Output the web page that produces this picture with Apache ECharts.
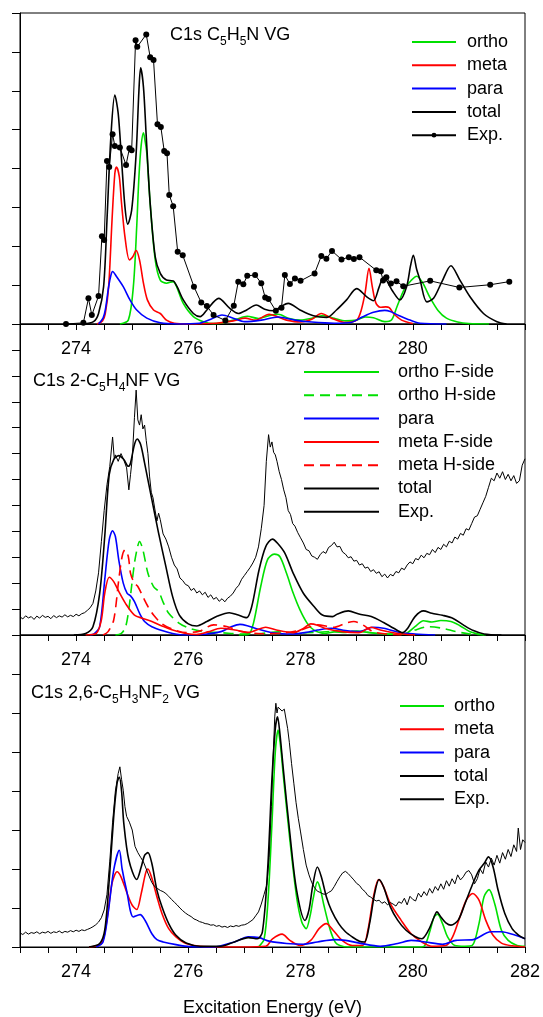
<!DOCTYPE html>
<html><head><meta charset="utf-8">
<script src="https://cdn.jsdelivr.net/npm/echarts@6/dist/echarts.min.js"></script>
<style>html,body{margin:0;padding:0;background:#fff}#c{width:543px;height:1017px}</style>
</head><body><div id="c"></div><script>
// ---------- Panel 1 : C1s C5H5N VG ----------
const p1Ortho = [[274.78,0],[274.93,0.1],[275.02,0.96],[275.08,2.5],[275.12,3.8],[275.16,4.6],[275.20,4.92],[275.23,4.7],[275.26,4.39],[275.32,3.1],[275.41,1.65],[275.50,1.13],[275.61,1.05],[275.73,1.09],[275.79,0.96],[275.91,0.53],[276.09,0.19],[276.27,0.06],[276.45,0.01],[276.65,0.04],[276.85,0.12],[277.05,0.2],[277.25,0.14],[277.45,0.22],[277.6,0.25],[277.8,0.14],[278.0,0.1],[278.2,0.15],[278.4,0.22],[278.6,0.15],[278.8,0.08],[279.0,0.1],[279.15,0.18],[279.3,0.16],[279.5,0.06],[279.62,0.1],[279.72,0.45],[279.85,0.9],[279.97,1.12],[280.07,1.23],[280.18,1.05],[280.3,0.7],[280.45,0.35],[280.6,0.15],[280.8,0.05],[281.0,0.01],[281.36,0]];
const p1Meta = [[274.37,0],[274.47,0.08],[274.52,0.27],[274.58,0.96],[274.64,2.67],[274.69,3.87],[274.72,4.04],[274.77,3.79],[274.81,3.1],[274.87,2.25],[274.95,1.65],[275.01,1.73],[275.07,1.89],[275.13,1.65],[275.20,1.05],[275.27,0.62],[275.38,0.36],[275.50,0.27],[275.61,0.1],[275.75,0.02],[276.0,0],[276.5,0.02],[276.8,0.08],[277.01,0.15],[277.2,0.1],[277.44,0.25],[277.6,0.18],[277.75,0.1],[278.0,0.05],[278.2,0.12],[278.37,0.27],[278.55,0.15],[278.8,0.04],[279.0,0.1],[279.08,0.35],[279.15,0.8],[279.22,1.43],[279.28,0.95],[279.34,0.55],[279.42,0.43],[279.52,0.44],[279.58,0.42],[279.67,0.25],[279.80,0.1],[280.0,0.01]];
const p1Para = [[274.40,0],[274.48,0.15],[274.52,0.36],[274.58,0.96],[274.62,1.25],[274.65,1.35],[274.72,1.22],[274.84,0.96],[274.96,0.62],[275.08,0.36],[275.26,0.15],[275.50,0.03],[275.8,0],[276.2,0.02],[276.4,0.12],[276.6,0.23],[276.8,0.15],[277.0,0.06],[277.3,0.1],[277.6,0.18],[277.9,0.1],[278.2,0.05],[278.6,0.02],[278.9,0.04],[279.1,0.18],[279.3,0.3],[279.5,0.35],[279.6,0.32],[279.75,0.22],[279.95,0.1],[280.13,0.02],[280.6,0]];
const p1Total = [[274.13,0],[274.31,0.06],[274.40,0.27],[274.49,0.96],[274.55,2.67],[274.62,4.82],[274.69,5.89],[274.75,5.42],[274.81,4.22],[274.87,3.02],[274.92,2.57],[274.99,2.93],[275.07,4.39],[275.12,6.02],[275.15,6.59],[275.20,6.1],[275.25,4.82],[275.32,3.1],[275.41,1.73],[275.50,1.3],[275.61,1.13],[275.73,1.11],[275.80,0.96],[275.91,0.62],[276.09,0.27],[276.21,0.19],[276.33,0.36],[276.54,0.66],[276.74,0.4],[276.89,0.27],[277.04,0.36],[277.21,0.49],[277.36,0.38],[277.52,0.34],[277.65,0.45],[277.78,0.53],[277.99,0.36],[278.23,0.21],[278.47,0.17],[278.64,0.36],[278.82,0.62],[279.0,0.91],[279.18,0.7],[279.30,0.6],[279.40,0.95],[279.48,1.21],[279.63,0.87],[279.77,0.62],[279.89,0.96],[279.96,1.5],[280.01,1.77],[280.07,1.4],[280.13,1.13],[280.25,0.57],[280.37,0.66],[280.52,1.09],[280.68,1.5],[280.84,1.13],[281.02,0.7],[281.26,0.27],[281.50,0.06],[281.67,0]];
const p1Exp = [[273.82,0],[274.13,0.03],[274.22,0.66],[274.28,0.23],[274.40,0.72],[274.46,2.26],[274.50,2.16],[274.55,4.19],[274.59,4.04],[274.65,4.88],[274.69,4.58],[274.78,4.54],[274.89,4.09],[274.95,4.52],[274.99,4.47],[275.06,7.3],[275.09,7.13],[275.25,7.45],[275.32,6.86],[275.38,6.79],[275.45,5.14],[275.51,5.07],[275.57,4.45],[275.62,4.39],[275.66,3.32],[275.73,3.03],[275.81,1.86],[275.90,1.77],[276.10,0.96],[276.23,0.55],[276.33,0.46],[276.45,0.23],[276.66,0.09],[276.81,0.47],[276.89,1.09],[276.98,1.02],[277.05,1.24],[277.19,1.26],[277.30,1.05],[277.37,0.68],[277.43,0.64],[277.56,0.34],[277.66,0.42],[277.72,1.26],[277.81,1.03],[277.90,1.17],[278.0,1.11],[278.25,1.3],[278.37,1.75],[278.46,1.68],[278.56,1.88],[278.73,1.66],[278.86,1.72],[278.95,1.67],[279.05,1.72],[279.35,1.38],[279.43,1.36],[279.47,1.12],[279.53,1.2],[279.61,1.04],[279.71,1.1],[279.83,0.97],[280.31,1.11],[280.83,0.94],[281.38,1.01],[281.72,1.09]];

// ---------- Panel 2 : C1s 2-C5H4NF VG ----------
const p2OrthoF = [[276.9,0],[277.07,0.02],[277.16,0.45],[277.29,1.87],[277.41,2.9],[277.53,3.12],[277.63,3.03],[277.75,2.38],[277.87,1.61],[277.99,0.97],[278.12,0.45],[278.24,0.19],[278.43,0.06],[278.6,0.12],[278.8,0.1],[279.0,0.15],[279.2,0.1],[279.5,0.04],[279.75,0.03],[279.88,0.06],[280.04,0.32],[280.19,0.55],[280.34,0.5],[280.50,0.56],[280.68,0.52],[280.84,0.36],[281.02,0.13],[281.27,0]];
const p2OrthoH = [[274.70,0],[274.80,0.05],[274.88,0.3],[274.94,1.0],[274.99,1.9],[275.04,2.77],[275.09,3.35],[275.13,3.61],[275.19,3.29],[275.28,2.38],[275.38,1.87],[275.47,1.68],[275.56,1.22],[275.65,0.84],[275.84,0.45],[276.02,0.26],[276.27,0.13],[276.58,0.09],[276.95,0.04],[277.3,0.06],[277.6,0.12],[277.9,0.08],[278.3,0.1],[278.7,0.15],[279.1,0.12],[279.5,0.04],[279.91,0.06],[280.04,0.19],[280.28,0.32],[280.53,0.26],[280.77,0.13],[281.02,0.04],[281.3,0]];
const p2Para = [[274.25,0],[274.32,0.04],[274.42,0.32],[274.51,2.13],[274.59,3.67],[274.65,4.02],[274.70,3.8],[274.76,2.9],[274.84,2.0],[274.91,1.61],[274.97,1.51],[275.04,1.29],[275.13,0.84],[275.22,0.52],[275.35,0.32],[275.53,0.17],[275.72,0.06],[275.96,0],[276.3,0.03],[276.58,0.13],[276.75,0.3],[276.92,0.41],[277.05,0.36],[277.19,0.26],[277.50,0.09],[277.87,0.04],[278.1,0.1],[278.30,0.19],[278.55,0.26],[278.80,0.17],[279.04,0.13],[279.29,0.3],[279.48,0.26],[279.79,0.09],[280.04,0.04],[280.40,0]];
const p2MetaF = [[274.17,0],[274.36,0.06],[274.45,0.58],[274.51,1.61],[274.59,2.23],[274.67,2.06],[274.76,1.68],[274.88,1.22],[275.04,0.77],[275.19,0.64],[275.35,0.52],[275.53,0.35],[275.72,0.19],[275.96,0.06],[276.15,0.02],[276.35,0.12],[276.58,0.26],[276.83,0.19],[277.07,0.1],[277.38,0.3],[277.57,0.19],[277.87,0.09],[278.05,0.25],[278.18,0.43],[278.30,0.38],[278.43,0.26],[278.74,0.13],[279.04,0.09],[279.26,0.3],[279.42,0.19],[279.73,0.06],[280.04,0]];
const p2MetaH = [[274.48,0],[274.57,0.13],[274.67,0.58],[274.76,2.13],[274.82,3.03],[274.87,3.29],[274.93,3.03],[274.97,2.38],[275.04,2.0],[275.10,1.87],[275.19,1.48],[275.28,1.1],[275.38,0.77],[275.53,0.43],[275.72,0.22],[275.96,0.09],[276.2,0.15],[276.45,0.39],[276.70,0.32],[276.95,0.13],[277.3,0.05],[277.7,0.08],[278.0,0.19],[278.30,0.39],[278.6,0.3],[278.80,0.45],[278.95,0.52],[279.11,0.39],[279.29,0.13],[279.54,0.04],[279.8,0]];
const p2Total = [[273.96,0],[274.17,0.06],[274.30,0.32],[274.42,1.61],[274.51,3.8],[274.59,6.19],[274.67,6.77],[274.76,6.92],[274.85,6.77],[274.93,6.51],[274.97,6.64],[275.04,7.35],[275.09,7.56],[275.15,7.35],[275.22,6.64],[275.35,5.22],[275.47,3.93],[275.60,2.64],[275.72,1.48],[275.84,0.77],[276.0,0.43],[276.15,0.35],[276.33,0.52],[276.52,0.73],[276.73,0.86],[276.89,0.77],[277.04,0.67],[277.13,1.1],[277.26,2.51],[277.38,3.41],[277.50,3.7],[277.59,3.54],[277.72,3.16],[277.87,2.38],[278.05,1.61],[278.24,1.1],[278.39,0.77],[278.57,0.71],[278.66,0.81],[278.85,0.93],[279.04,0.81],[279.26,0.71],[279.48,0.48],[279.66,0.26],[279.82,0.09],[279.91,0.26],[280.04,0.71],[280.19,0.93],[280.34,0.84],[280.53,0.76],[280.72,0.64],[280.90,0.39],[281.08,0.17],[281.27,0.04],[281.58,0]];
const p2Exp = [[273.00,0.70],[273.05,0.62],[273.10,0.74],[273.15,0.66],[273.20,0.71],[273.25,0.60],[273.30,0.73],[273.35,0.65],[273.40,0.76],[273.45,0.68],[273.50,0.72],[273.55,0.63],[273.60,0.75],[273.65,0.67],[273.70,0.74],[273.75,0.69],[273.80,0.78],[273.85,0.70],[273.90,0.76],[273.95,0.71],[274.00,0.80],[274.05,0.74],[274.10,0.82],[274.15,0.86],[274.20,0.95],[274.25,1.05],[274.30,1.22],[274.35,1.70],[274.40,2.40],[274.45,3.60],[274.50,4.80],[274.55,5.80],[274.60,6.50],[274.65,7.64],[274.68,6.80],[274.70,6.95],[274.75,6.70],[274.80,7.00],[274.85,6.75],[274.90,6.45],[274.94,5.60],[274.97,6.20],[275.00,6.80],[275.04,8.40],[275.07,9.45],[275.10,8.30],[275.13,8.10],[275.16,8.50],[275.19,7.95],[275.22,8.10],[275.25,7.50],[275.28,7.00],[275.31,6.10],[275.34,5.50],[275.37,5.30],[275.40,4.90],[275.44,4.40],[275.47,4.70],[275.50,4.45],[275.55,3.90],[275.60,3.70],[275.65,3.40],[275.70,3.00],[275.75,2.70],[275.80,2.55],[275.85,2.20],[275.90,2.10],[275.95,1.95],[276.00,1.90],[276.05,1.72],[276.10,1.80],[276.15,1.62],[276.20,1.70],[276.25,1.55],[276.30,1.65],[276.35,1.45],[276.40,1.55],[276.45,1.38],[276.50,1.45],[276.55,1.30],[276.60,1.40],[276.65,1.28],[276.70,1.42],[276.75,1.50],[276.80,1.62],[276.85,1.80],[276.90,1.92],[276.95,2.15],[277.00,2.30],[277.05,2.45],[277.10,2.60],[277.15,2.78],[277.20,3.00],[277.25,3.40],[277.30,4.10],[277.35,5.00],[277.39,6.70],[277.43,7.73],[277.46,7.25],[277.49,7.45],[277.52,7.05],[277.55,6.95],[277.58,6.70],[277.62,6.30],[277.66,6.00],[277.70,5.60],[277.74,5.30],[277.78,4.80],[277.82,4.65],[277.86,4.30],[277.90,4.20],[277.95,3.95],[278.00,3.75],[278.05,3.55],[278.10,3.30],[278.15,3.25],[278.20,3.05],[278.25,3.00],[278.30,2.92],[278.35,3.10],[278.40,3.22],[278.45,3.15],[278.50,3.38],[278.55,3.45],[278.60,3.58],[278.65,3.40],[278.70,3.42],[278.75,3.20],[278.80,3.12],[278.85,2.98],[278.90,3.02],[278.95,2.85],[279.00,2.88],[279.05,2.70],[279.10,2.75],[279.15,2.58],[279.20,2.62],[279.25,2.45],[279.30,2.52],[279.35,2.38],[279.40,2.44],[279.45,2.25],[279.50,2.35],[279.55,2.20],[279.60,2.34],[279.65,2.28],[279.70,2.45],[279.75,2.40],[279.80,2.58],[279.85,2.52],[279.90,2.70],[279.95,2.82],[280.00,2.75],[280.05,2.95],[280.10,2.90],[280.15,3.08],[280.20,2.98],[280.25,3.15],[280.30,3.10],[280.35,3.30],[280.40,3.18],[280.45,3.38],[280.50,3.30],[280.55,3.50],[280.60,3.40],[280.65,3.62],[280.70,3.55],[280.75,3.78],[280.80,3.70],[280.85,3.92],[280.90,3.85],[280.95,4.10],[281.00,4.05],[281.05,4.30],[281.10,4.55],[281.15,4.60],[281.20,4.85],[281.25,5.10],[281.30,5.35],[281.35,5.70],[281.40,6.05],[281.45,5.95],[281.50,6.25],[281.55,6.05],[281.60,6.30],[281.65,6.00],[281.70,6.20],[281.75,5.95],[281.80,6.15],[281.85,5.85],[281.90,5.95],[281.95,6.55],[282.00,6.80]];

// ---------- Panel 3 : C1s 2,6-C5H3NF2 VG ----------
const p3Ortho = [[277.25,0],[277.35,0.2],[277.42,1.2],[277.49,3.16],[277.55,5.0],[277.60,5.56],[277.64,5.2],[277.69,4.44],[277.81,2.74],[277.93,1.28],[278.02,0.65],[278.10,0.47],[278.17,0.8],[278.23,1.28],[278.30,1.67],[278.35,1.5],[278.41,1.11],[278.53,0.43],[278.62,0.12],[278.70,0.04],[278.85,0],[280.15,0],[280.22,0.05],[280.31,0.43],[280.38,0.77],[280.44,0.84],[280.53,0.6],[280.62,0.26],[280.75,0.04],[280.93,0.02],[281.06,0.04],[281.18,0.6],[281.27,1.29],[281.36,1.47],[281.46,1.11],[281.58,0.43],[281.70,0.17],[281.86,0.04],[282.0,0.02]];
const p3Meta = [[274.23,0],[274.45,0.09],[274.54,0.6],[274.64,1.63],[274.73,1.93],[274.80,1.8],[274.91,1.37],[275.0,1.07],[275.08,0.96],[275.16,1.37],[275.24,1.9],[275.28,2.0],[275.35,1.76],[275.44,1.29],[275.53,0.86],[275.65,0.47],[275.78,0.26],[275.96,0.09],[276.21,0.02],[276.95,0],[277.38,0.02],[277.50,0.21],[277.67,0.33],[277.81,0.17],[277.99,0.04],[278.18,0.17],[278.33,0.47],[278.46,0.6],[278.58,0.43],[278.74,0.17],[278.92,0.04],[279.11,0.04],[279.20,0.43],[279.30,1.29],[279.39,1.73],[279.48,1.54],[279.60,1.11],[279.79,0.69],[279.97,0.34],[280.16,0.13],[280.34,0.02],[280.59,0.04],[280.71,0.26],[280.84,0.77],[280.96,1.22],[281.07,1.37],[281.18,1.2],[281.30,0.69],[281.43,0.3],[281.58,0.1],[281.77,0.03],[282.0,0]];
const p3Para = [[274.36,0],[274.48,0.13],[274.57,0.86],[274.67,1.97],[274.77,2.48],[274.82,2.0],[274.90,1.45],[275.02,0.77],[275.14,0.83],[275.23,0.68],[275.35,0.34],[275.44,0.19],[275.55,0.13],[275.78,0.06],[276.02,0.01],[276.45,0],[276.82,0.13],[277.07,0.26],[277.26,0.24],[277.44,0.15],[277.75,0.09],[278.05,0.07],[278.30,0.13],[278.61,0.19],[278.80,0.17],[279.05,0.1],[279.42,0.02],[279.73,0.09],[279.97,0.17],[280.22,0.13],[280.53,0.07],[280.77,0.17],[281.08,0.19],[281.39,0.39],[281.58,0.39],[281.83,0.3],[282.0,0.21]];
const p3Total = [[274.23,0],[274.42,0.09],[274.51,0.43],[274.59,1.71],[274.67,3.34],[274.73,4.2],[274.77,4.36],[274.81,4.0],[274.85,3.17],[274.94,2.23],[275.08,1.73],[275.16,2.05],[275.22,2.35],[275.28,2.42],[275.35,2.14],[275.44,1.46],[275.53,1.03],[275.65,0.6],[275.78,0.3],[275.96,0.1],[276.21,0.02],[276.58,0.02],[276.82,0.13],[277.07,0.24],[277.23,0.21],[277.32,0.39],[277.41,1.9],[277.49,4.3],[277.55,5.6],[277.59,5.9],[277.63,5.5],[277.69,4.6],[277.81,2.9],[277.93,1.45],[278.08,0.68],[278.15,0.95],[278.22,1.6],[278.30,2.05],[278.37,1.8],[278.46,1.29],[278.55,0.94],[278.68,0.6],[278.80,0.39],[278.92,0.26],[279.05,0.15],[279.14,0.13],[279.23,0.6],[279.32,1.37],[279.40,1.73],[279.48,1.54],[279.60,1.03],[279.73,0.69],[279.88,0.43],[280.04,0.27],[280.16,0.21],[280.28,0.43],[280.38,0.77],[280.43,0.9],[280.50,0.77],[280.59,0.62],[280.68,0.56],[280.81,0.69],[280.93,1.11],[281.06,1.59],[281.18,1.97],[281.27,2.14],[281.35,2.31],[281.43,2.06],[281.52,1.46],[281.64,0.86],[281.77,0.47],[281.89,0.3],[282.0,0.21]];
const p3Exp = [[273.00,0.36],[273.05,0.32],[273.10,0.38],[273.15,0.33],[273.20,0.37],[273.25,0.35],[273.30,0.39],[273.35,0.34],[273.40,0.38],[273.45,0.36],[273.50,0.40],[273.55,0.35],[273.60,0.39],[273.65,0.37],[273.70,0.41],[273.75,0.36],[273.80,0.40],[273.85,0.38],[273.90,0.42],[273.95,0.39],[274.00,0.43],[274.05,0.40],[274.10,0.44],[274.15,0.42],[274.20,0.45],[274.25,0.48],[274.30,0.52],[274.35,0.57],[274.40,0.64],[274.45,0.75],[274.50,0.95],[274.55,1.35],[274.60,2.20],[274.65,3.20],[274.70,4.00],[274.75,4.45],[274.78,4.62],[274.81,4.30],[274.84,4.02],[274.87,3.60],[274.90,3.35],[274.95,3.20],[275.00,3.00],[275.05,2.58],[275.10,2.42],[275.15,2.30],[275.20,2.18],[275.25,2.00],[275.30,1.82],[275.35,1.65],[275.40,1.55],[275.45,1.50],[275.50,1.45],[275.55,1.42],[275.60,1.37],[275.65,1.30],[275.70,1.22],[275.75,1.15],[275.80,1.08],[275.85,1.00],[275.90,0.93],[275.95,0.87],[276.00,0.82],[276.05,0.78],[276.10,0.72],[276.15,0.69],[276.20,0.65],[276.25,0.63],[276.30,0.60],[276.35,0.59],[276.40,0.56],[276.45,0.57],[276.50,0.53],[276.55,0.55],[276.60,0.51],[276.65,0.53],[276.70,0.50],[276.75,0.54],[276.80,0.52],[276.85,0.55],[276.90,0.53],[276.95,0.56],[277.00,0.57],[277.05,0.60],[277.10,0.65],[277.15,0.70],[277.20,0.80],[277.25,0.90],[277.30,1.10],[277.35,1.35],[277.40,1.60],[277.44,2.30],[277.48,3.60],[277.51,4.80],[277.54,5.90],[277.56,6.25],[277.58,6.00],[277.60,6.15],[277.63,6.10],[277.67,6.05],[277.71,6.10],[277.74,6.05],[277.77,5.60],[277.80,5.25],[277.84,4.70],[277.88,4.20],[277.92,3.70],[277.96,3.30],[278.00,2.95],[278.05,2.50],[278.10,2.10],[278.15,1.85],[278.20,1.65],[278.25,1.52],[278.30,1.43],[278.35,1.40],[278.40,1.36],[278.45,1.35],[278.50,1.40],[278.55,1.44],[278.60,1.55],[278.65,1.68],[278.70,1.80],[278.75,1.90],[278.80,1.94],[278.85,1.88],[278.90,1.80],[278.95,1.72],[279.00,1.63],[279.05,1.58],[279.10,1.48],[279.15,1.42],[279.20,1.32],[279.25,1.28],[279.30,1.22],[279.35,1.18],[279.40,1.20],[279.45,1.12],[279.50,1.16],[279.55,1.08],[279.60,1.14],[279.65,1.10],[279.70,1.05],[279.75,1.16],[279.80,1.12],[279.85,1.25],[279.90,1.08],[279.95,1.30],[280.00,1.22],[280.05,1.18],[280.10,1.38],[280.15,1.28],[280.20,1.42],[280.25,1.32],[280.30,1.50],[280.35,1.38],[280.40,1.55],[280.45,1.45],[280.50,1.62],[280.55,1.48],[280.60,1.70],[280.65,1.56],[280.70,1.75],[280.75,1.62],[280.80,1.85],[280.85,1.72],[280.90,1.80],[280.95,1.92],[281.00,1.96],[281.05,1.85],[281.10,1.62],[281.15,1.75],[281.20,2.00],[281.25,1.88],[281.30,2.18],[281.35,2.05],[281.40,2.28],[281.45,2.10],[281.50,2.35],[281.55,2.15],[281.60,2.42],[281.65,2.25],[281.70,2.50],[281.75,2.32],[281.80,2.62],[281.85,2.45],[281.88,3.05],[281.92,2.50],[281.96,2.75],[282.00,2.68]];

// ---------- labels ----------
const xMin = 273, xMax = 282;
const yMax = [8, 12, 8];
const panelTitles = [
  '{a|C1s C}{s|5}{a|H}{s|5}{a|N VG}',
  '{a|C1s 2-C}{s|5}{a|H}{s|4}{a|NF VG}',
  '{a|C1s 2,6-C}{s|5}{a|H}{s|3}{a|NF}{s|2}{a| VG}'
];
const xTitle = 'Excitation Energy (eV)';
const legend1 = ['ortho','meta','para','total','Exp.'];
const legend2 = ['ortho F-side','ortho H-side','para','meta F-side','meta H-side','total','Exp.'];
const legend3 = ['ortho','meta','para','total','Exp.'];

const GREEN = '#00e000', RED = '#ff0000', BLUE = '#0000ff', BLACK = '#000000';
const FONT = "'Liberation Sans', Arial, Helvetica, sans-serif";

const chart = echarts.init(document.getElementById('c'), null, {renderer: 'canvas'});

const gridTops = [13, 324, 635], gridH = [311, 311, 312];
const grids = gridTops.map((t, i) => ({
  left: 20, right: 18, top: t, height: gridH[i], show: true, borderColor: '#000', borderWidth: 1,
  backgroundColor: 'transparent', containLabel: false, outerBoundsMode: 'none'
}));

const xAxes = [0,1,2].map(i => ({
  type: 'value', gridIndex: i, min: xMin, max: xMax, interval: 0.5,
  axisLine: {show: true, lineStyle: {color: '#000', width: 1}},
  axisTick: {show: true, inside: false, length: 6, lineStyle: {color: '#000'}},
  splitLine: {show: false},
  axisLabel: {
    show: true, margin: 16, color: '#000', fontSize: 18, fontFamily: FONT,
    formatter: v => (Math.abs(v % 2) < 1e-9 && (i === 2 || v < 281.9)) ? String(v) : ''
  },
  name: i === 2 ? xTitle : '', nameLocation: 'middle', nameGap: 52,
  nameTextStyle: {fontSize: 18, color: '#000', fontFamily: FONT}
}));
const yAxes = [0,1,2].map(i => ({
  type: 'value', gridIndex: i, min: 0, max: yMax[i], interval: 1,
  axisLine: {show: true, lineStyle: {color: '#000', width: 1}},
  axisTick: {show: true, inside: false, length: 8, lineStyle: {color: '#000'}},
  axisLabel: {show: false}, splitLine: {show: false}
}));

function line(name, data, gi, color, opts) {
  opts = opts || {};
  return Object.assign({
    type: 'line', name: name, data: data, xAxisIndex: gi, yAxisIndex: gi,
    symbol: 'none', smooth: 0.3, animation: false, silent: true,
    lineStyle: {color: color, width: opts.width || 1.6, type: opts.dash ? [10, 6] : 'solid'},
    itemStyle: {color: color}, z: opts.z || 2
  }, opts.extra || {});
}

const series = [
  line('1|ortho', p1Ortho, 0, GREEN),
  line('1|meta', p1Meta, 0, RED),
  line('1|para', p1Para, 0, BLUE),
  line('1|total', p1Total, 0, BLACK, {z: 3}),
  line('1|Exp.', p1Exp, 0, BLACK, {width: 1, z: 4, extra: {symbol: 'circle', symbolSize: 6, showSymbol: true, smooth: false}}),

  line('2|ortho F-side', p2OrthoF, 1, GREEN),
  line('2|ortho H-side', p2OrthoH, 1, GREEN, {dash: true}),
  line('2|para', p2Para, 1, BLUE),
  line('2|meta F-side', p2MetaF, 1, RED),
  line('2|meta H-side', p2MetaH, 1, RED, {dash: true}),
  line('2|total', p2Total, 1, BLACK, {z: 3}),
  line('2|Exp.', p2Exp, 1, BLACK, {width: 1, z: 4, extra: {smooth: false}}),

  line('3|ortho', p3Ortho, 2, GREEN),
  line('3|meta', p3Meta, 2, RED),
  line('3|para', p3Para, 2, BLUE),
  line('3|total', p3Total, 2, BLACK, {z: 3}),
  line('3|Exp.', p3Exp, 2, BLACK, {width: 1, z: 4, extra: {smooth: false}})
];

function legendFor(prefix, names, left, top, w, textPad) {
  return {
    data: names.map(n => ({name: prefix + '|' + n, itemStyle: n === 'Exp.' && prefix === '1' ? {} : {opacity: 0}})),
    orient: 'vertical', left: left, top: top, itemWidth: w, itemHeight: 6, itemGap: 5.3, padding: 0,
    selectedMode: false, formatter: nm => nm.split('|')[1],
    textStyle: {fontSize: 18, color: '#000', fontFamily: FONT, padding: [0, 0, 0, textPad]}
  };
}

const titles = panelTitles.map((t, i) => ({
  text: t, left: [170, 33, 31][i], top: [22, 368, 680][i], padding: 0,
  textStyle: {
    fontWeight: 'normal',
    rich: {
      a: {fontSize: 18, fontWeight: 'normal', fontFamily: FONT, color: '#000', lineHeight: 26, verticalAlign: 'middle'},
      s: {fontSize: 12, fontWeight: 'normal', fontFamily: FONT, color: '#000', lineHeight: 26, verticalAlign: 'bottom'}
    }
  }
}));

chart.setOption({
  animation: false,
  backgroundColor: '#fff',
  title: titles,
  grid: grids,
  xAxis: xAxes,
  yAxis: yAxes,
  legend: [
    legendFor('1', legend1, 411, 33, 44, 6),
    legendFor('2', legend2, 303, 363, 75, 14),
    legendFor('3', legend3, 399, 697, 44, 5)
  ],
  series: series
});
</script></body></html>
